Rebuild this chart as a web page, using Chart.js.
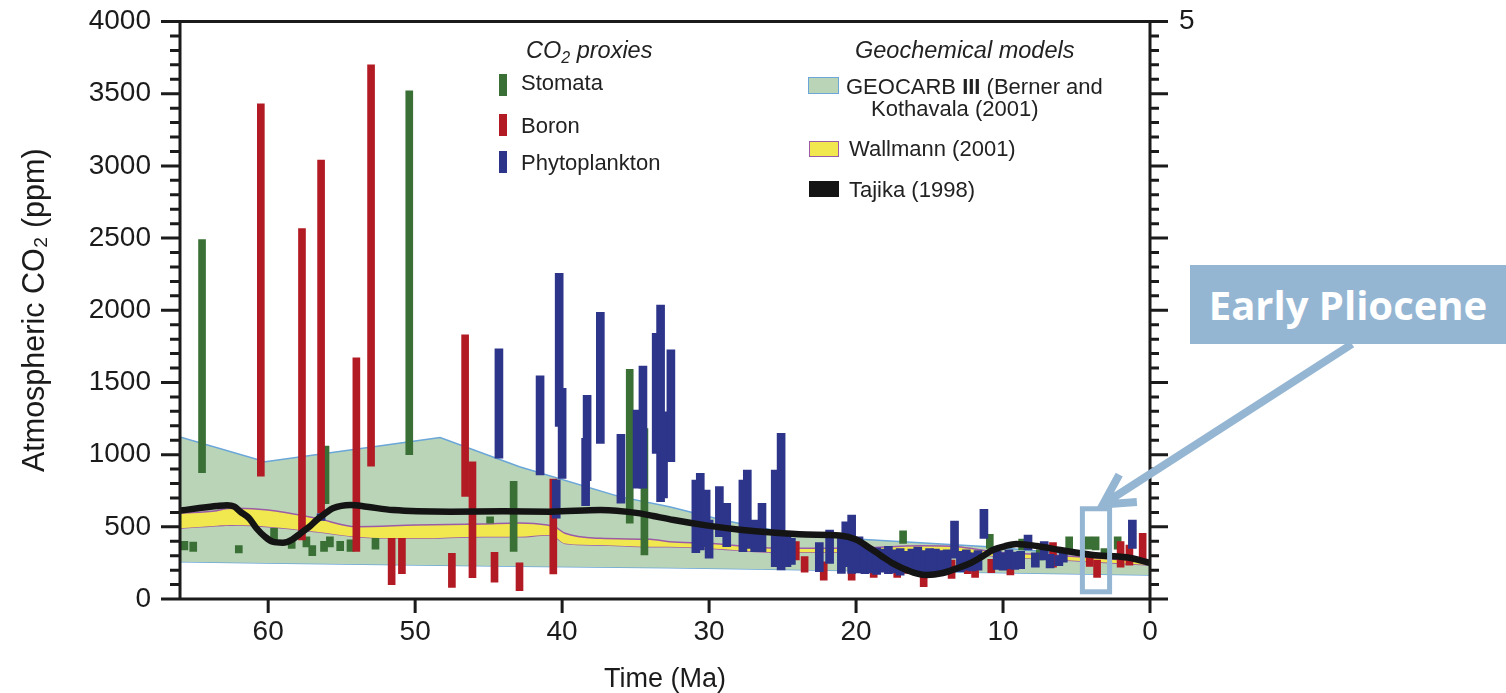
<!DOCTYPE html>
<html>
<head>
<meta charset="utf-8">
<script src="https://cdn.jsdelivr.net/npm/chart.js@4.4.1/dist/chart.umd.min.js"></script>
<style>
  body { margin: 0; background: #fff; }
  #wrap { position: relative; width: 1506px; height: 693px; overflow: hidden; font-family: 'Liberation Sans', Arial, sans-serif; color: #222; }
  #wrap canvas { position: absolute; left: 0; top: 0; }
  .lg { position: absolute; line-height: 1; white-space: nowrap; font-size: 22px; }
  .hd { font-style: italic; font-size: 23.5px; }
  .sw { position: absolute; box-sizing: border-box; }
  sub { font-size: 0.68em; vertical-align: -0.3em; line-height: 0; }
  #pliocene { position: absolute; left: 1190px; top: 265px; width: 316px; height: 79px; background: #95b6d3;
    color: #fff; font-family: 'Open Sans', sans-serif; font-weight: 700; font-size: 40px; line-height: 79px; text-align: center; }
</style>
</head>
<body>
<div id="wrap">
  <canvas id="co2" width="1506" height="693"></canvas>

  <div class="lg hd" style="left:526px; top:39px;">CO<sub>2</sub> proxies</div>
  <div class="sw" style="left:499px; top:74px; width:8px; height:22px; background:#3a7035;"></div>
  <div class="lg" style="left:521px; top:72px;">Stomata</div>
  <div class="sw" style="left:499px; top:114px; width:8px; height:22px; background:#b31b24;"></div>
  <div class="lg" style="left:521px; top:115px;">Boron</div>
  <div class="sw" style="left:499px; top:151px; width:8px; height:22px; background:#2d358a;"></div>
  <div class="lg" style="left:521px; top:152px;">Phytoplankton</div>

  <div class="lg hd" style="left:855px; top:39px;">Geochemical models</div>
  <div class="sw" style="left:808px; top:77px; width:31px; height:17px; background:#bad4b8; border:1.5px solid #6aa6d8;"></div>
  <div class="lg" style="left:846px; top:76px;">GEOCARB <b>III</b> (Berner and</div>
  <div class="lg" style="left:871px; top:98px;">Kothavala (2001)</div>
  <div class="sw" style="left:809px; top:141px; width:30px; height:16px; background:#f0e84e; border:1.5px solid #9c5ba6;"></div>
  <div class="lg" style="left:849px; top:138px;">Wallmann (2001)</div>
  <div class="sw" style="left:809px; top:181px; width:30px; height:16px; background:#141414;"></div>
  <div class="lg" style="left:849px; top:179px;">Tajika (1998)</div>

  <div id="pliocene">Early Pliocene</div>
</div>

<script>
// ---- data (age in Ma, CO2 in ppm) ----
const stomataAge  = [65.7, 65.1, 64.5, 62.0, 59.6, 58.4, 57.4, 57.0, 56.2, 56.1, 55.8, 55.1, 54.4, 52.7, 50.4, 44.9, 43.3, 35.4, 34.4, 16.8, 10.9, 8.7, 7.5, 5.5, 4.2, 3.7, 3.1, 2.2];
const stomataLow  = [340, 330, 875, 320, 410, 350, 360, 300, 330, 660, 360, 335, 330, 345, 1000, 525, 330, 525, 305, 385, 350, 340, 270, 340, 345, 340, 305, 345];
const stomataHigh = [400, 395, 2490, 370, 490, 410, 430, 370, 400, 1060, 430, 400, 410, 420, 3520, 570, 815, 1590, 1180, 473, 448, 415, 340, 430, 430, 430, 350, 430];

const boronAge  = [60.5, 57.7, 56.4, 54.0, 53.0, 51.6, 50.9, 47.5, 46.6, 46.1, 44.6, 42.9, 40.6, 24.1, 23.5, 22.2, 20.3, 18.8, 17.2, 16.7, 15.4, 13.5, 12.4, 11.9, 10.8, 9.5, 6.6, 4.1, 3.6, 2.0, 1.4, 0.5];
const boronLow  = [850, 410, 595, 330, 920, 100, 175, 81, 710, 148, 116, 57, 173, 270, 185, 131, 131, 150, 150, 178, 85, 143, 175, 150, 182, 166, 220, 225, 150, 220, 235, 270];
const boronHigh = [3430, 2565, 3040, 1670, 3700, 420, 420, 316, 1830, 950, 323, 251, 830, 397, 293, 258, 247, 235, 235, 316, 189, 270, 320, 290, 275, 256, 390, 310, 270, 397, 374, 455];

const phytoAge  = [56.4, 44.3, 41.5, 40.4, 40.2, 40.0, 38.4, 38.3, 37.4, 36.0, 34.9, 34.5, 33.6, 33.3, 33.1, 32.6,
                   30.9, 30.6, 30.2, 30.0, 29.3, 28.8, 27.7, 27.4, 26.9, 26.4, 25.5, 25.1, 24.7, 24.4,
                   22.5, 21.8, 21.0, 20.7, 20.3, 19.8, 19.4, 19.0, 18.6, 18.2, 17.8, 17.4, 17.0, 16.6, 16.2,
                   15.8, 15.4, 15.0, 14.6, 14.2, 13.8, 13.3, 12.9, 12.5, 12.1, 11.7, 11.3, 10.4, 10.0, 9.6,
                   9.2, 8.8, 8.3, 7.8, 7.2, 6.8, 6.2, 5.9, 1.2];
const phytoLow  = [545, 975, 860, 560, 1195, 836, 646, 820, 1078, 663, 767, 767, 1009, 674, 700, 951,
                   321, 340, 362, 282, 431, 362, 328, 350, 328, 328, 224, 201, 224, 240,
                   189, 247, 178, 224, 178, 180, 175, 180, 170, 185, 175, 180, 165, 190, 175,
                   170, 185, 175, 180, 190, 185, 282, 190, 200, 195, 200, 420, 205, 200, 210,
                   205, 210, 340, 220, 270, 215, 230, 255, 351];
const phytoHigh = [590, 1732, 1545, 825, 2255, 1460, 1113, 1410, 1985, 1140, 1309, 1614, 1840, 2036, 1297, 1725,
                   824, 870, 755, 547, 778, 663, 824, 893, 547, 663, 893, 1148, 455, 420,
                   390, 478, 431, 535, 582, 431, 360, 340, 355, 345, 365, 340, 350, 330, 345,
                   360, 335, 350, 345, 335, 340, 540, 330, 340, 320, 335, 621, 330, 320, 340,
                   325, 330, 443, 320, 397, 310, 300, 330, 547];

const geocarbAge  = [66, 60.2, 48.3, 42.9, 36.1, 32.7, 29.1, 24.8, 20, 11, 0];
const geocarbHigh = [1122, 950, 1118, 916, 709, 639, 547, 460, 415, 362, 265];
const geocarbLow  = [258, 250, 234, 227, 220, 216, 212, 205, 196, 183, 166];

const wallmannAge  = [66, 63.5, 62.9, 62.1, 60, 56.7, 54, 49.9, 45.4, 42.9, 41, 40.5, 39.8, 37.4, 34, 32.7, 30.1, 25.3, 20.4, 15.6, 13.1, 10.7, 5.9, 0];
const wallmannHigh = [594, 612, 625, 628, 616, 559, 501, 512, 519, 526, 512, 500, 455, 420, 413, 397, 386, 351, 351, 369, 362, 328, 300, 258];
const wallmannLow  = [490, 508, 510, 512, 501, 466, 432, 420, 432, 431, 443, 430, 385, 374, 362, 362, 351, 323, 323, 332, 325, 298, 270, 235];

const tajikaAge = [66, 64.8, 63.5, 62.8, 62.3, 61.9, 61.3, 60.8, 60.2, 59.7, 59.0, 58.4, 57.8, 57.2, 56.7, 56.1, 55.6, 54.4, 53.3, 51.5, 47.6, 44.0, 40.8, 37.4, 36.3, 34.7, 33.8, 32.4, 30.2, 27.9, 25.7, 23.4, 21.1, 20.0, 19.1, 18.3, 17.5, 16.8, 15.9, 15.2, 14.1, 13.2, 12.2, 11.4, 10.7, 9.9, 9.1, 7.7, 6.1, 3.9, 1.6, 0];
const tajikaCO2 = [612, 628, 644, 650, 640, 605, 560, 490, 430, 397, 390, 410, 455, 500, 547, 595, 628, 651, 639, 616, 605, 607, 605, 616, 612, 593, 575, 547, 510, 480, 460, 447, 440, 412, 355, 300, 247, 212, 178, 166, 180, 210, 249, 295, 339, 365, 381, 367, 339, 305, 289, 251];

const xTicks = [0, 10, 20, 30, 40, 50, 60];

function pts(ages, vals) { return ages.map((a, i) => ({x: a, y: vals[i]})); }
function ranges(ages, lo, hi) { return ages.map((a, i) => ({x: a, y: [lo[i], hi[i]]})); }

const AXIS = '#1b1b1b';
const HILITE = '#95b6d3';

// no automatic room for overhanging tick labels: the plot box is fixed
function fixBox(s) {
  s.paddingTop = 0; s.paddingBottom = 0; s.paddingLeft = 0; s.paddingRight = 0;
}

// frame + tick marks (major every 500 ppm, minor every 100)
const framePlugin = {
  id: 'frame',
  afterDatasetsDraw(chart) {
    const {ctx, chartArea: a, scales} = chart;
    ctx.save();
    ctx.strokeStyle = AXIS;
    ctx.lineWidth = 3;
    ctx.lineCap = 'butt';
    ctx.beginPath();
    ctx.rect(a.left, a.top, a.right - a.left, a.bottom - a.top);
    for (let v = 0; v <= 4000; v += 100) {
      const y = scales.y.getPixelForValue(v);
      const major = v % 500 === 0;
      ctx.moveTo(a.left - (major ? 19 : 10), y); ctx.lineTo(a.left, y);
      ctx.moveTo(a.right, y); ctx.lineTo(a.right + (major ? 18 : 9), y);
    }
    xTicks.forEach(t => {
      const x = scales.x.getPixelForValue(t);
      ctx.moveTo(x, a.bottom); ctx.lineTo(x, a.bottom + 14);
    });
    ctx.stroke();
    ctx.restore();
  },
  afterDraw(chart) {
    const {ctx, scales} = chart;
    const sx = scales.x, sy = scales.y;
    ctx.save();
    ctx.strokeStyle = HILITE;
    // Early Pliocene window
    const x0 = sx.getPixelForValue(4.6), x1 = sx.getPixelForValue(2.75);
    const y0 = sy.getPixelForValue(625), y1 = sy.getPixelForValue(50);
    ctx.lineWidth = 5;
    ctx.strokeRect(x0, y0, x1 - x0, y1 - y0);
    // arrow from label box to window
    const tipX = sx.getPixelForValue(3.2), tipY = sy.getPixelForValue(655);
    const fromX = 1352, fromY = 344;
    const ang = Math.atan2(fromY - tipY, fromX - tipX);
    ctx.lineWidth = 8;
    ctx.beginPath();
    ctx.moveTo(fromX, fromY); ctx.lineTo(tipX, tipY);
    ctx.moveTo(tipX + 34 * Math.cos(ang - 0.5), tipY + 34 * Math.sin(ang - 0.5)); ctx.lineTo(tipX, tipY);
    ctx.lineTo(tipX + 34 * Math.cos(ang + 0.5), tipY + 34 * Math.sin(ang + 0.5));
    ctx.stroke();
    ctx.restore();
  }
};

Chart.defaults.font.family = "'Liberation Sans', Arial, sans-serif";
Chart.defaults.color = '#1b1b1b';

new Chart(document.getElementById('co2'), {
  type: 'bar',
  data: {
    datasets: [
      { type: 'line', label: 'Tajika (1998)', data: pts(tajikaAge, tajikaCO2), borderColor: '#141414', borderWidth: 6.5,
        pointRadius: 0, cubicInterpolationMode: 'monotone', fill: false, order: 0 },
      { label: 'Stomata', data: ranges(stomataAge, stomataLow, stomataHigh), backgroundColor: '#3a7035',
        barThickness: 7, grouped: false, borderWidth: 0, order: 3 },
      { label: 'Boron', data: ranges(boronAge, boronLow, boronHigh), backgroundColor: '#b31b24',
        barThickness: 7, grouped: false, borderWidth: 0, order: 2 },
      { label: 'Phytoplankton', data: ranges(phytoAge, phytoLow, phytoHigh), backgroundColor: '#2d358a',
        barThickness: 8, grouped: false, borderWidth: 0, order: 1 },
      { type: 'line', label: 'Wallmann (2001)', data: pts(wallmannAge, wallmannHigh), borderColor: '#9c5ba6', borderWidth: 1.5,
        backgroundColor: '#f0e84e', pointRadius: 0, cubicInterpolationMode: 'monotone', fill: '+1', order: 4 },
      { type: 'line', label: 'Wallmann low', data: pts(wallmannAge, wallmannLow), borderColor: '#9c5ba6', borderWidth: 1.5,
        pointRadius: 0, cubicInterpolationMode: 'monotone', fill: false, order: 4 },
      { type: 'line', label: 'GEOCARB III', data: pts(geocarbAge, geocarbHigh), borderColor: '#6aa6d8', borderWidth: 1.5,
        backgroundColor: '#bad4b8', pointRadius: 0, tension: 0, fill: '+1', order: 6 },
      { type: 'line', label: 'GEOCARB low', data: pts(geocarbAge, geocarbLow), borderColor: '#6aa6d8', borderWidth: 1.5,
        pointRadius: 0, tension: 0, fill: false, order: 6 }
    ]
  },
  options: {
    responsive: false,
    animation: false,
    devicePixelRatio: 1,
    layout: { padding: { top: 21.5, left: 0, right: 0, bottom: 0 } },
    plugins: { legend: { display: false }, tooltip: { enabled: false } },
    scales: {
      x: {
        type: 'linear', reverse: true, min: 0, max: 66, offset: false,
        grid: { display: false, drawTicks: false }, border: { display: false },
        ticks: { stepSize: 10, includeBounds: false, padding: 16, font: { size: 28 } },
        title: { display: true, text: 'Time (Ma)', font: { size: 27, lineHeight: 1 }, padding: 0 },
        afterFit(s) { s.height = 94; fixBox(s); }
      },
      y: {
        type: 'linear', position: 'left', min: 0, max: 4000,
        grid: { display: false, drawTicks: false }, border: { display: false },
        ticks: { stepSize: 100, autoSkip: false, padding: 29, font: { size: 28 },
                 callback: v => (v % 500 === 0 ? String(v) : '') },
        title: { display: true, text: 'Atmospheric CO₂ (ppm)', font: { size: 30.5 }, padding: { top: 17, bottom: 0 } },
        afterFit(s) { s.width = 180; fixBox(s); }
      },
      y2: {
        type: 'linear', position: 'right', min: 0, max: 4000,
        grid: { display: false, drawTicks: false }, border: { display: false },
        ticks: { stepSize: 100, autoSkip: false, padding: 29, font: { size: 28 },
                 callback: v => (v === 4000 ? '5' : '') },
        afterFit(s) { s.width = 356; fixBox(s); }
      }
    }
  },
  plugins: [framePlugin]
});
</script>
</body>
</html>
